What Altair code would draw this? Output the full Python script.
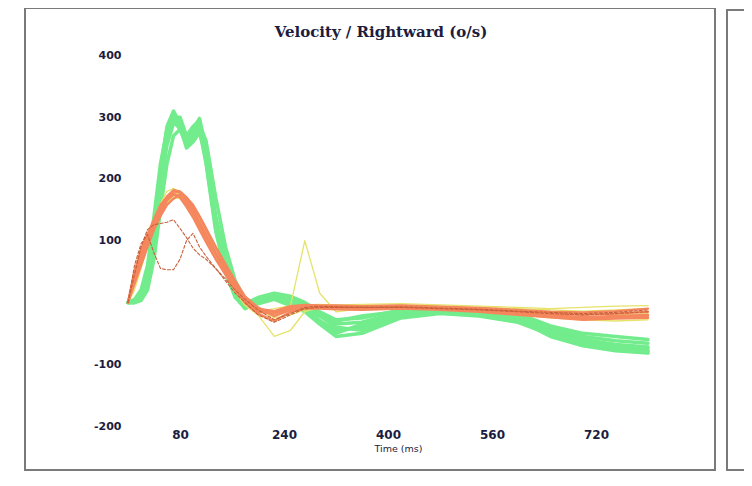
import altair as alt
import pandas as pd

# time grid (ms)
T = [0, 10, 20, 30, 40, 50, 60, 70, 80, 90, 100, 110, 120, 135, 150, 165, 180,
     200, 225, 250, 272, 295, 320, 360, 420, 480, 540, 600, 650, 700, 750, 800]

# green traces
G1 = [0, 2, 10, 45, 120, 215, 285, 310, 290, 262, 280, 298, 250, 130, 60, 15, -5, 5, 10, 8, -5, -22, -35, -32, -15, -12, -15, -20, -45, -60, -68, -72]
G2 = [0, 0, 5, 30, 95, 190, 265, 300, 300, 270, 285, 295, 230, 120, 55, 10, -10, 0, 12, 5, -10, -30, -45, -40, -20, -15, -18, -25, -50, -62, -72, -78]
G3 = [0, 5, 20, 60, 140, 225, 280, 305, 285, 255, 265, 285, 240, 140, 70, 20, -2, 8, 15, 10, 0, -15, -28, -25, -12, -10, -12, -18, -38, -50, -55, -60]
G4 = [0, 0, 8, 40, 110, 200, 270, 300, 295, 268, 275, 290, 245, 125, 50, 8, -8, 3, 10, 2, -12, -30, -50, -35, -18, -14, -18, -28, -55, -70, -78, -82]
G5 = [0, 3, 15, 50, 130, 210, 275, 295, 280, 260, 270, 280, 225, 115, 48, 12, -6, 6, 14, 6, -6, -18, -30, -22, -14, -12, -16, -22, -42, -55, -62, -66]
G6 = [0, 0, 6, 35, 100, 185, 255, 290, 285, 250, 260, 275, 235, 135, 65, 18, -4, 4, 8, 0, -10, -22, -40, -45, -22, -16, -20, -30, -48, -64, -70, -74]
G7 = [0, 0, 3, 20, 70, 150, 225, 270, 280, 255, 262, 288, 262, 170, 90, 35, 5, -2, 5, -5, -15, -35, -55, -50, -25, -18, -22, -32, -52, -66, -74, -80]

# orange traces
O1 = [0, 40, 75, 100, 125, 150, 168, 180, 178, 165, 150, 130, 110, 80, 55, 28, 5, -12, -15, -8, -5, -6, -6, -8, -6, -8, -10, -14, -18, -20, -18, -15]
O2 = [0, 35, 70, 95, 120, 145, 165, 175, 172, 160, 145, 125, 105, 78, 50, 25, 2, -15, -18, -10, -8, -8, -9, -10, -8, -10, -12, -16, -20, -24, -22, -20]
O3 = [0, 45, 80, 105, 130, 155, 172, 182, 180, 170, 155, 138, 118, 88, 60, 32, 8, -10, -14, -6, -4, -5, -5, -6, -5, -7, -9, -12, -15, -16, -14, -10]
O4 = [0, 30, 60, 90, 118, 140, 158, 168, 175, 170, 158, 140, 120, 90, 62, 35, 10, -8, -22, -12, -6, -7, -8, -9, -7, -9, -12, -18, -22, -26, -24, -22]
O5 = [0, 50, 85, 110, 135, 158, 170, 176, 170, 155, 138, 118, 98, 70, 45, 20, 0, -18, -30, -15, -10, -10, -11, -12, -10, -12, -15, -20, -24, -28, -26, -25]
O6 = [0, 60, 95, 110, 80, 55, 53, 53, 70, 100, 112, 90, 75, 55, 35, 15, 0, -20, -32, -20, -10, -8, -8, -8, -8, -10, -12, -15, -18, -20, -18, -15]
O7 = [0, 45, 90, 118, 126, 128, 130, 134, 120, 105, 88, 77, 70, 55, 38, 20, 5, -12, -28, -18, -8, -6, -7, -8, -7, -9, -11, -14, -16, -18, -16, -12]

# yellow traces
Y1 = [0, 35, 70, 100, 125, 150, 165, 172, 170, 160, 145, 125, 105, 75, 48, 22, 0, -15, -10, -5, 100, 15, -15, -10, -8, -8, -10, -12, -16, -18, -20, -18]
Y2 = [0, 40, 80, 105, 128, 150, 162, 170, 168, 158, 142, 122, 100, 72, 45, 18, -5, -20, -55, -45, -15, -8, -6, -5, -4, -6, -8, -10, -12, -14, -12, -10]
Y3 = [0, 30, 62, 92, 120, 148, 168, 178, 175, 165, 150, 132, 112, 82, 56, 30, 6, -10, -18, -10, -4, -3, -4, -3, -2, -4, -6, -8, -10, -8, -6, -5]
Y4 = [0, 20, 55, 90, 125, 160, 180, 185, 178, 162, 148, 128, 108, 78, 52, 26, 4, -12, -25, -20, -12, -10, -10, -12, -10, -12, -15, -20, -25, -28, -30, -28]

Y_TICKS = [-200, -100, 100, 200, 300, 400]
X_TICKS = [80, 240, 400, 560, 720]

TITLE = "Velocity / Rightward (o/s)"
X_TITLE = "Time (ms)"

groups = {
    "green": {"G1": G1, "G2": G2, "G3": G3, "G4": G4, "G5": G5, "G6": G6, "G7": G7},
    "yellow": {"Y1": Y1, "Y2": Y2, "Y3": Y3, "Y4": Y4},
    "orange": {"O1": O1, "O2": O2, "O3": O3, "O4": O4, "O5": O5},
    "dark": {"O6": O6, "O7": O7},
}

rows = []
for g, traces in groups.items():
    for name, vals in traces.items():
        for t, v in zip(T, vals):
            rows.append({"t": t, "v": v, "trace": name, "group": g})
df = pd.DataFrame(rows)

label_color = "#1c1c40"
x_enc = alt.X("t:Q", scale=alt.Scale(domain=[0, 800], nice=False),
              axis=alt.Axis(values=X_TICKS, title=X_TITLE, domain=False, ticks=False, grid=False,
                            labelExpr="'' + datum.value",
                            labelFont="DejaVu Sans", labelFontWeight="bold", labelFontSize=12,
                            labelColor=label_color, labelPadding=3,
                            titleFont="DejaVu Sans", titleFontWeight="normal", titleFontSize=9.5,
                            titleColor=label_color, titleX=270, titleY=17, titleBaseline="top"))
y_enc = alt.Y("v:Q", scale=alt.Scale(domain=[-200, 425], nice=False),
              axis=alt.Axis(values=Y_TICKS, title=None, domain=False, ticks=False, grid=False,
                            labelExpr="'' + datum.value",
                            labelFont="DejaVu Sans", labelFontWeight="bold", labelFontSize=11,
                            labelColor=label_color, labelPadding=7))

base = alt.Chart(df)

def layer(g, color, width, dash=None, opacity=1.0):
    kw = dict(color=color, strokeWidth=width, strokeJoin="round", strokeCap="round", opacity=opacity)
    if dash:
        kw["strokeDash"] = dash
    return base.transform_filter(alt.datum.group == g).mark_line(**kw).encode(
        x=x_enc, y=y_enc, detail="trace:N")

green = layer("green", "#72EC8C", 3.5)
yellow = layer("yellow", "#E6E36A", 1.3)
orange = layer("orange", "#F5875E", 2.4)
dark = layer("dark", "#C8603A", 1.1, dash=[3, 2])

frame_df = pd.DataFrame({"k": [0]})
frame1 = alt.Chart(frame_df).mark_rect(fillOpacity=0, stroke="#7a7a7a", strokeWidth=2).encode(
    x=alt.value(-103), x2=alt.value(587), y=alt.value(-32), y2=alt.value(430))
frame2 = alt.Chart(frame_df).mark_rect(fillOpacity=0, stroke="#7a7a7a", strokeWidth=2).encode(
    x=alt.value(599), x2=alt.value(800), y=alt.value(-30), y2=alt.value(430))
title = alt.Chart(frame_df).mark_text(
    text=TITLE, font="DejaVu Serif", fontWeight="bold", fontSize=15, color=label_color,
    align="center", baseline="middle").encode(x=alt.value(253), y=alt.value(-8))

chart = alt.layer(frame1, frame2, green, yellow, orange, dark, title).properties(
    width=520, height=386,
    background="white",
    autosize=alt.AutoSizeParams(type="none"),
    padding={"left": 120, "top": 32, "right": 96, "bottom": 46},
).configure_view(stroke=None)

chart.save("out.html", embed_options={"renderer": "svg", "actions": False})
